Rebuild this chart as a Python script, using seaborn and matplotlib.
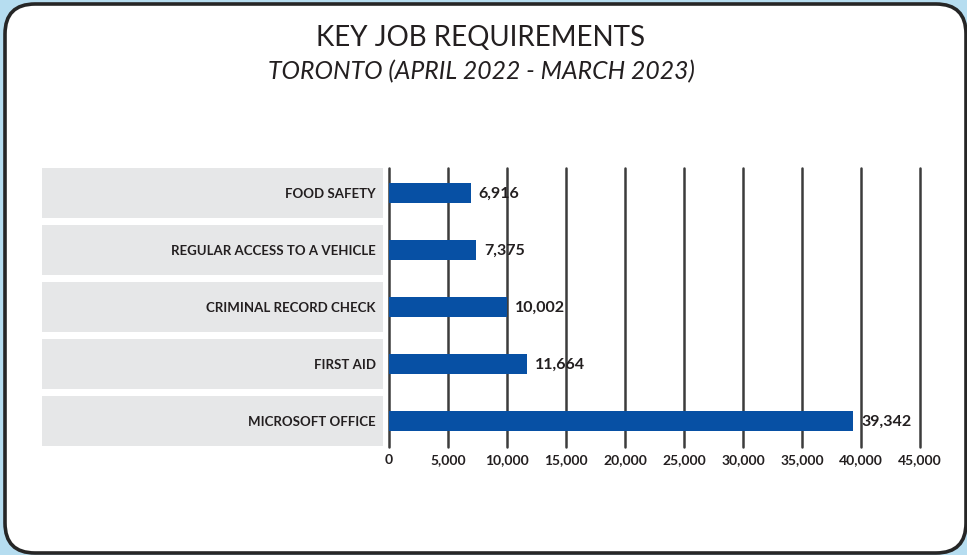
import matplotlib
matplotlib.use("Agg")
import matplotlib.pyplot as plt
import matplotlib.transforms as mtrans
from matplotlib.patches import FancyBboxPatch, Rectangle
import seaborn as sns
import pandas as pd

categories = ["FOOD SAFETY", "REGULAR ACCESS TO A VEHICLE", "CRIMINAL RECORD CHECK",
              "FIRST AID", "MICROSOFT OFFICE"]
values = [6916, 7375, 10002, 11664, 39342]
xticks = [0, 5000, 10000, 15000, 20000, 25000, 30000, 35000, 40000, 45000]
title = "KEY JOB REQUIREMENTS"
subtitle = "TORONTO (APRIL 2022 - MARCH 2023)"

sns.set_theme(style="white")
plt.rcParams["font.family"] = ["Lato", "DejaVu Sans"]

BAR = "#0750a4"
BAND = "#e6e7e8"
GRID = "#3c3c3c"
TXT = "#231f20"

W, H = 967, 555
fig = plt.figure(figsize=(W / 100, H / 100), dpi=100)
fig.patch.set_facecolor("#b6ddf0")

# rounded white card (pixel coordinates, origin bottom-left)
card = FancyBboxPatch((5 + 30, 2 + 30), 961 - 60, 549 - 60,
                      boxstyle="round,pad=30", transform=mtrans.IdentityTransform(),
                      facecolor="white", edgecolor="#262626", linewidth=2.6, zorder=-5)
fig.patches.append(card)

ax = fig.add_axes([389 / W, 1 - 447 / H, (920 - 389) / W, (447 - 168) / H])
ax.set_facecolor("none")
ax.set_zorder(2)

df = pd.DataFrame({"category": categories, "value": values})
sns.barplot(data=df, x="value", y="category", orient="h", color=BAR,
            width=0.35, ax=ax, saturation=1, zorder=3, linewidth=0)

ax.set_xlim(0, 45000)
ax.set_ylim(4.46, -0.44)

# vertical gridlines
for xv in xticks:
    ax.axvline(xv, color=GRID, linewidth=1.8, zorder=1, clip_on=False)

for s in ax.spines.values():
    s.set_visible(False)

ax.set_xticks(xticks)
ax.set_xticklabels([f"{v:,}" for v in xticks], fontsize=10, fontweight="bold",
                   color=TXT)
ax.tick_params(axis="x", length=0, pad=5)
ax.set_yticks(range(len(categories)))
ax.set_yticklabels(categories, fontsize=9.5, fontweight="bold", color=TXT)
ax.tick_params(axis="y", length=0, pad=9.5)
ax.set_xlabel("")
ax.set_ylabel("")
ax.yaxis.set_zorder(2)

# gray label bands
bt = mtrans.blended_transform_factory(fig.transFigure, ax.transData)
for i in range(len(categories)):
    r = Rectangle((42 / W, i - 0.44), (383 - 42) / W, 0.88, transform=bt,
                  facecolor=BAND, edgecolor="none", clip_on=False, zorder=0.1)
    ax.add_patch(r)

# value labels
for i, v in enumerate(values):
    ax.annotate(f"{v:,}", xy=(v, i), xytext=(8, -1), textcoords="offset pixels",
                va="center", ha="left", fontsize=11.5, fontweight="bold",
                color=TXT, zorder=4)

fig.text(481 / W, 1 - 38 / H, title, ha="center", va="center", fontsize=20, color=TXT)
fig.text(481 / W, 1 - 72 / H, subtitle, ha="center", va="center", fontsize=17.8,
         style="italic", color=TXT)

fig.savefig("out.png", dpi=100, facecolor=fig.get_facecolor())
